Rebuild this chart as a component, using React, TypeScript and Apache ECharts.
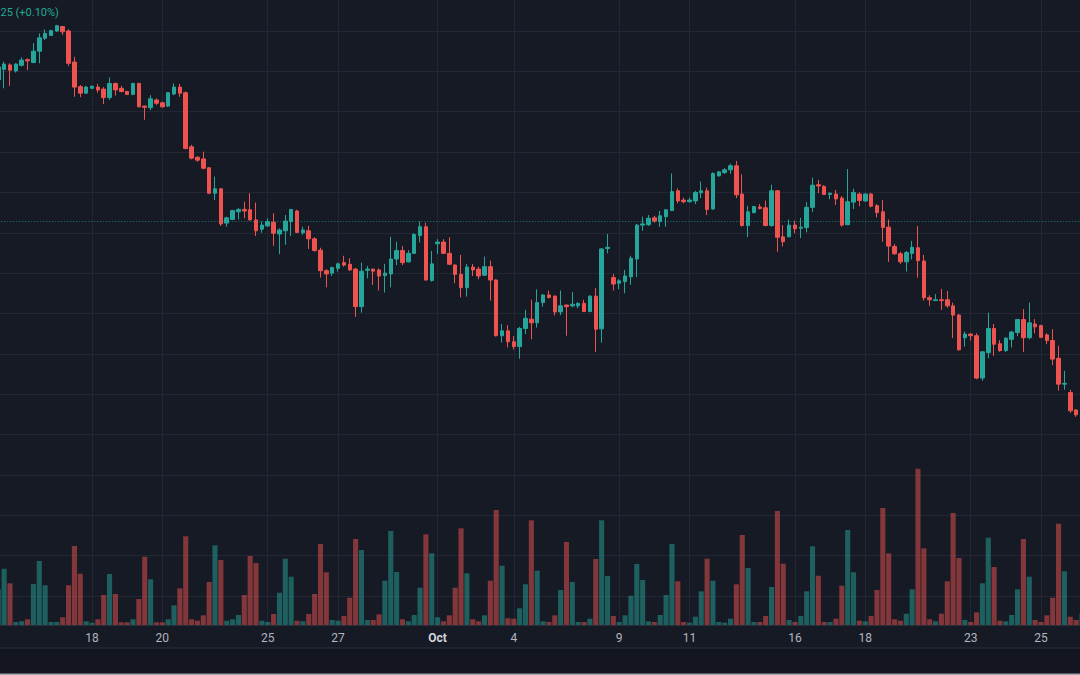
import React, { useEffect, useRef } from "react";
import * as echarts from "echarts";

// Trading sessions (each session = 6 four-hour bars, first bar opens 22:00 the previous day)
const sessionDates = [
  "2023-09-13", "2023-09-14", "2023-09-15", "2023-09-18", "2023-09-19", "2023-09-20", "2023-09-21", "2023-09-22",
  "2023-09-25", "2023-09-26", "2023-09-27", "2023-09-28", "2023-09-29", "2023-10-02", "2023-10-03", "2023-10-04",
  "2023-10-05", "2023-10-06", "2023-10-09", "2023-10-10", "2023-10-11", "2023-10-12", "2023-10-13", "2023-10-16",
  "2023-10-17", "2023-10-18", "2023-10-19", "2023-10-20", "2023-10-23", "2023-10-24", "2023-10-25", "2023-10-26",
];
const sessionHours = ["22:00", "02:00", "06:00", "10:00", "14:00", "18:00"];
const firstBarOffset = 3;
const barCount = 186;

// Time-scale tick labels (category -> label)
const tickLabels: [string, string][] = [
  ["2023-09-18 02:00", "18"],
  ["2023-09-20 02:00", "20"],
  ["2023-09-25 02:00", "25"],
  ["2023-09-27 02:00", "27"],
  ["2023-10-01 22:00", "Oct"],
  ["2023-10-04 02:00", "4"],
  ["2023-10-09 02:00", "9"],
  ["2023-10-11 02:00", "11"],
  ["2023-10-16 02:00", "16"],
  ["2023-10-18 02:00", "18"],
  ["2023-10-23 02:00", "23"],
  ["2023-10-25 02:00", "25"],
];

// [open, close, low, high]
const candles: number[][] = [
  [227.9, 231.1, 227.4, 231.3], [230.5, 231.8, 225.8, 232.4], [231.6, 230.3, 226.4, 232.0], [230.1, 231.8, 229.7, 232.0],
  [231.5, 232.8, 231.2, 233.5], [232.9, 232.6, 230.3, 233.2], [232.2, 235.0, 232.0, 237.0], [235.0, 238.3, 232.0, 239.4],
  [238.2, 239.4, 237.8, 240.4], [238.9, 240.1, 238.8, 240.3], [240.0, 241.3, 239.8, 241.5], [241.1, 239.8, 239.0, 241.2],
  [240.0, 232.0, 231.3, 240.4], [232.3, 226.1, 223.7, 233.6], [226.2, 224.6, 223.6, 226.6], [224.6, 226.1, 224.4, 226.4],
  [225.8, 226.3, 225.6, 226.5], [226.1, 225.4, 224.7, 226.9], [225.6, 223.5, 221.9, 226.1], [223.5, 227.0, 222.9, 228.5],
  [227.0, 225.4, 224.0, 227.2], [225.8, 225.0, 224.8, 226.4], [225.0, 224.3, 224.1, 225.2], [224.3, 227.0, 224.1, 227.2],
  [227.0, 221.2, 221.1, 227.2], [221.4, 221.1, 218.0, 221.5], [221.0, 223.2, 220.4, 224.1], [222.9, 222.1, 221.7, 223.3],
  [222.2, 221.2, 221.1, 222.5], [221.4, 224.7, 221.2, 224.9], [224.4, 226.1, 224.1, 227.0], [226.1, 224.6, 223.7, 226.9],
  [224.7, 210.9, 210.7, 225.0], [211.3, 208.5, 208.2, 211.8], [208.7, 208.0, 207.6, 209.0], [208.3, 206.0, 205.7, 210.1],
  [206.1, 199.8, 199.7, 206.3], [199.8, 200.9, 198.1, 203.9], [200.9, 192.2, 191.7, 201.0], [192.4, 193.7, 191.5, 194.0],
  [193.3, 195.5, 193.2, 195.7], [195.2, 195.8, 193.3, 196.1], [195.8, 195.4, 193.6, 197.7], [195.7, 193.2, 193.0, 199.8],
  [193.2, 190.5, 189.2, 197.5], [190.9, 191.9, 190.0, 192.8], [191.7, 192.8, 191.5, 193.6], [192.6, 189.9, 186.8, 194.8],
  [189.7, 190.7, 184.7, 191.1], [190.5, 192.9, 187.0, 194.4], [192.8, 195.8, 189.2, 195.9], [195.4, 190.1, 189.9, 195.7],
  [190.0, 190.7, 189.5, 191.5], [190.5, 188.5, 186.0, 191.7], [188.5, 185.6, 185.3, 188.9], [185.7, 180.6, 178.9, 186.3],
  [180.6, 179.8, 176.5, 181.0], [180.0, 181.4, 179.3, 181.6], [181.2, 182.3, 180.4, 182.6], [182.6, 182.0, 181.6, 184.3],
  [182.2, 180.8, 180.6, 183.7], [181.0, 171.7, 169.2, 181.3], [171.7, 180.5, 170.2, 182.6], [180.7, 181.0, 178.7, 181.8],
  [181.0, 180.5, 177.1, 181.1], [180.8, 179.3, 175.7, 181.2], [179.4, 180.0, 175.2, 182.3], [179.8, 183.5, 176.5, 189.0],
  [183.5, 185.6, 182.0, 187.8], [185.6, 182.6, 182.0, 186.7], [182.8, 184.9, 182.6, 185.7], [184.9, 189.6, 184.8, 189.9],
  [189.3, 191.5, 187.6, 192.8], [191.5, 178.3, 178.1, 192.5], [178.2, 182.3, 177.9, 185.5], [187.3, 187.7, 184.7, 188.4],
  [187.7, 184.9, 184.8, 188.4], [184.9, 182.2, 182.0, 188.9], [182.0, 179.7, 177.5, 182.2], [179.7, 176.4, 174.0, 184.5],
  [176.4, 181.5, 174.2, 182.3], [181.5, 180.8, 179.3, 182.3], [181.0, 179.3, 178.5, 181.6], [179.5, 181.6, 179.3, 184.1],
  [181.6, 178.3, 173.2, 183.1], [178.3, 164.5, 164.3, 178.5], [164.5, 165.7, 162.8, 167.4], [165.7, 163.0, 161.6, 167.1],
  [163.0, 161.8, 161.1, 164.4], [161.8, 166.3, 158.8, 166.7], [166.3, 168.8, 164.9, 170.9], [168.6, 167.7, 163.6, 173.4],
  [167.7, 172.7, 166.5, 176.0], [172.7, 174.6, 171.7, 174.8], [174.6, 174.0, 173.7, 175.7], [174.3, 170.4, 169.5, 174.5],
  [170.4, 171.9, 169.6, 175.7], [172.1, 171.7, 164.5, 172.2], [171.9, 172.3, 171.5, 175.3], [171.9, 172.5, 171.3, 172.8],
  [172.5, 170.5, 170.4, 173.4], [170.5, 174.3, 170.3, 174.5], [174.3, 166.1, 160.5, 176.3], [166.2, 186.0, 162.8, 186.2],
  [186.1, 186.4, 184.9, 189.7], [178.9, 177.3, 175.7, 179.8], [177.5, 178.1, 176.0, 178.5], [177.9, 179.3, 175.0, 180.8],
  [179.1, 183.7, 177.1, 184.3], [183.5, 191.9, 179.0, 192.2], [191.9, 192.2, 190.5, 194.0], [192.0, 193.6, 191.7, 194.4],
  [193.7, 192.9, 192.5, 194.2], [192.8, 194.2, 191.5, 195.4], [194.0, 195.7, 191.5, 195.8], [195.5, 200.2, 195.4, 204.7],
  [200.4, 197.9, 197.3, 201.0], [198.1, 197.7, 197.3, 198.7], [197.7, 198.1, 197.5, 198.7], [197.9, 200.0, 197.1, 200.4],
  [199.9, 200.4, 198.6, 202.7], [200.4, 195.8, 194.4, 201.2], [195.9, 204.7, 195.7, 205.0], [204.1, 205.1, 203.9, 205.3],
  [204.9, 205.6, 204.6, 206.0], [205.6, 206.6, 204.6, 207.1], [206.6, 199.4, 198.6, 207.8], [199.6, 191.8, 191.5, 204.5],
  [191.8, 195.2, 188.9, 196.7], [195.0, 196.5, 194.8, 196.7], [196.4, 196.0, 195.8, 197.1], [196.2, 191.8, 191.6, 198.0],
  [191.8, 200.4, 191.5, 201.9], [200.4, 188.9, 185.3, 200.6], [189.0, 187.8, 186.6, 191.9], [189.0, 191.9, 188.9, 193.3],
  [191.9, 191.0, 189.9, 193.0], [191.1, 191.4, 188.7, 193.7], [191.3, 196.3, 190.1, 197.6], [196.3, 201.8, 195.2, 203.7],
  [201.9, 201.6, 199.8, 203.1], [201.5, 199.5, 199.4, 201.8], [199.5, 199.8, 198.3, 200.0], [199.6, 198.4, 196.9, 200.6],
  [198.6, 191.9, 191.5, 199.1], [192.0, 197.7, 191.9, 205.8], [197.6, 200.0, 195.9, 200.9], [199.6, 198.0, 196.6, 200.0],
  [197.9, 199.6, 197.7, 199.8], [199.6, 196.6, 196.3, 199.9], [196.7, 195.0, 193.8, 197.1], [195.2, 191.3, 187.8, 198.1],
  [191.4, 186.7, 182.8, 193.3], [186.6, 184.8, 184.5, 187.2], [184.8, 182.8, 182.3, 185.3], [182.8, 185.1, 180.4, 185.5],
  [184.9, 186.4, 183.4, 188.0], [186.3, 183.1, 178.9, 191.7], [183.0, 173.9, 173.2, 184.5], [173.9, 173.4, 171.9, 174.5],
  [173.2, 173.4, 173.1, 174.8], [173.4, 173.2, 170.9, 176.1], [173.4, 171.9, 171.4, 175.6], [171.9, 169.6, 163.9, 172.7],
  [169.6, 161.0, 160.8, 169.9], [164.0, 164.9, 161.8, 165.5], [164.9, 164.5, 163.3, 165.1], [164.5, 154.0, 153.7, 165.1],
  [154.0, 160.5, 153.3, 160.7], [160.3, 166.3, 158.9, 170.2], [166.3, 162.4, 159.5, 167.4], [162.5, 160.8, 160.5, 163.4],
  [160.8, 163.9, 160.5, 164.1], [163.6, 165.4, 161.6, 165.7], [165.3, 168.5, 164.4, 168.6], [168.5, 164.0, 160.5, 171.1],
  [164.0, 167.7, 163.6, 172.7], [167.4, 166.7, 165.1, 168.6], [167.0, 164.1, 163.9, 167.2], [164.7, 163.3, 162.4, 165.1],
  [163.3, 158.7, 157.2, 166.1], [158.9, 152.5, 150.9, 162.0], [152.5, 152.7, 151.1, 155.8], [150.4, 145.9, 145.4, 151.1],
  [146.1, 144.9, 144.4, 146.3], [144.9, 146.1, 144.6, 146.3],
];

const volumes: number[] = [
  360, 563, 417, 30, 37, 57, 410, 640, 397, 30, 30, 77, 397, 790, 513, 37,
  23, 57, 300, 510, 310, 27, 27, 57, 260, 683, 457, 27, 27, 57, 197, 367,
  887, 57, 43, 97, 430, 797, 650, 43, 57, 100, 300, 690, 620, 43, 30, 110,
  323, 663, 483, 43, 37, 110, 310, 810, 527, 50, 43, 90, 273, 860, 750, 50,
  50, 107, 443, 940, 530, 57, 37, 100, 373, 907, 717, 77, 37, 97, 373, 967,
  517, 57, 37, 97, 443, 1150, 593, 67, 63, 167, 407, 1047, 543, 37, 30, 97,
  350, 830, 430, 30, 30, 63, 660, 1047, 490, 90, 30, 97, 293, 610, 450, 37,
  30, 100, 300, 810, 437, 30, 23, 83, 337, 663, 443, 30, 23, 63, 407, 900,
  570, 30, 30, 90, 380, 1140, 613, 50, 30, 90, 337, 787, 493, 30, 30, 63,
  393, 950, 527, 43, 37, 90, 350, 1170, 717, 57, 43, 113, 357, 1563, 767, 57,
  37, 113, 437, 1120, 670, 50, 30, 127, 417, 873, 580, 43, 37, 100, 357, 860,
  483, 50, 30, 97, 273, 1013, 537, 83, 50, 113,
];

const priceLineValue = 192.75;
const priceMin = 92.82;
const priceMax = 247.68;
const volumeMax = 6250;
const legendText = "25 (+0.10%)";

const UP = "#26a69a";
const DOWN = "#ef5350";
const UP_VOL = "rgba(38,166,154,0.5)";
const DOWN_VOL = "rgba(239,83,80,0.5)";
const GRID = "#232733";
const BG = "#161a25";

function buildCategories(): string[] {
  const out: string[] = [];
  for (const d of sessionDates) {
    const dt = new Date(d + "T00:00:00Z");
    const prev = new Date(dt.getTime() - 86400000).toISOString().slice(0, 10);
    sessionHours.forEach((h, k) => out.push(`${k === 0 ? prev : d} ${h}`));
  }
  return out.slice(firstBarOffset, firstBarOffset + barCount);
}

export default function App() {
  const ref = useRef<HTMLDivElement>(null);

  useEffect(() => {
    if (!ref.current) return;
    const chart = echarts.init(ref.current, undefined, { renderer: "svg" });
    const categories = buildCategories();
    const tickMap = new Map<string, string>(tickLabels);
    const isTick = (_i: number, v: string) => tickMap.has(v);

    chart.setOption({
      animation: false,
      backgroundColor: BG,
      grid: { left: 8.27, right: 8.0, top: 0, bottom: 50, containLabel: false },
      xAxis: {
        type: "category",
        data: categories,
        boundaryGap: false,
        axisLine: { show: true, lineStyle: { color: "#2a2e39" } },
        axisTick: { show: false },
        axisLabel: {
          interval: isTick,
          formatter: (v: string) => {
            const t = tickMap.get(v) || "";
            return /^[A-Za-z]/.test(t) ? `{m|${t}}` : t;
          },
          color: "#b2b5be",
          fontSize: 12,
          fontFamily: "Roboto, 'Noto Sans', sans-serif",
          margin: 7,
          rich: {
            m: { color: "#d1d4dc", fontWeight: "bold", fontSize: 12, fontFamily: "Roboto, 'Noto Sans', sans-serif" },
          },
        },
        splitLine: { show: true, interval: isTick, lineStyle: { color: GRID, width: 1 } },
      },
      yAxis: [
        {
          type: "value",
          min: priceMin,
          max: priceMax,
          splitNumber: 15,
          position: "right",
          axisLine: { show: false },
          axisTick: { show: false },
          axisLabel: { show: false },
          splitLine: { show: true, showMinLine: false, showMaxLine: false, lineStyle: { color: GRID, width: 1 } },
        },
        {
          type: "value",
          min: 0,
          max: volumeMax,
          show: false,
          splitLine: { show: false },
        },
      ],
      series: [
        {
          type: "bar",
          name: "Volume",
          yAxisIndex: 1,
          data: volumes,
          barWidth: 5.1,
          z: 1,
          itemStyle: {
            color: (p: any) => {
              const c = candles[p.dataIndex];
              return c && c[1] >= c[0] ? UP_VOL : DOWN_VOL;
            },
          },
        },
        {
          type: "candlestick",
          name: "Price",
          data: candles,
          barWidth: 4,
          z: 3,
          itemStyle: {
            color: UP,
            color0: DOWN,
            borderColor: UP,
            borderColor0: DOWN,
            borderWidth: 1,
          },
          markLine: {
            silent: true,
            symbol: ["none", "none"],
            label: { show: false },
            lineStyle: { color: "rgba(38,166,154,0.7)", type: [1, 2], width: 1 },
            data: [{ yAxis: priceLineValue }],
          },
        },
      ],
      graphic: [
        {
          type: "rect",
          shape: { x: 0, y: 648, width: 1100, height: 27 },
          style: { fill: "#131620" },
          silent: true,
        },
        {
          type: "rect",
          shape: { x: 0, y: 647.5, width: 1100, height: 1 },
          style: { fill: "#2a2e39" },
          silent: true,
        },
        {
          type: "rect",
          shape: { x: 0, y: 673.5, width: 1100, height: 1.5 },
          style: { fill: "#a3a6af" },
          silent: true,
        },
        {
          type: "text",
          x: 10.5,
          y: 12,
          style: {
            text: legendText,
            fill: "#22ab94",
            fontSize: 11,
            fontFamily: "Roboto, 'Noto Sans', sans-serif",
            align: "left",
            verticalAlign: "middle",
          },
          silent: true,
        },
      ],
    });

    return () => chart.dispose();
  }, []);

  return (
    <div style={{ position: "fixed", left: 0, top: 0, width: 1080, height: 675, overflow: "hidden", background: BG }}>
      <div ref={ref} style={{ position: "absolute", left: -10, top: 0, width: 1100, height: 675 }} />
    </div>
  );
}
